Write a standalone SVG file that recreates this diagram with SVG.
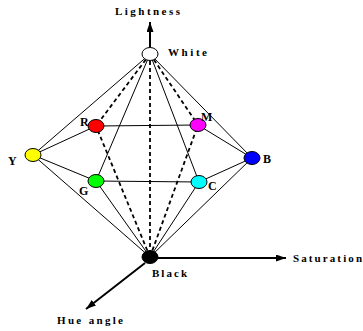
<svg xmlns="http://www.w3.org/2000/svg" width="363" height="331" viewBox="0 0 363 331">
<style>
.s{stroke:#000;stroke-width:1;fill:none}
.d{stroke:#000;stroke-width:1.8;stroke-dasharray:4 3;fill:none}
.ax{stroke:#000;stroke-width:2;fill:none;marker-end:url(#ah)}
.n{stroke:#000;stroke-width:1}
.t{font-family:"Liberation Serif",serif;font-weight:bold;font-size:11px;fill:#000}
.l{font-family:"Liberation Serif",serif;font-weight:bold;font-size:12px;fill:#000}
</style>
<defs>
<marker id="ah" markerUnits="userSpaceOnUse" markerWidth="10" markerHeight="7" refX="10" refY="3.5" orient="auto">
<path d="M0,0 L10,3.5 L0,7 z" fill="#000"/>
</marker>
</defs>
<rect width="363" height="331" fill="#fff"/>
<g id="connectors">
<line class="s" x1="150" y1="54" x2="33" y2="155"/>
<line class="d" x1="150" y1="54" x2="96" y2="126"/>
<line class="s" x1="150" y1="54" x2="96" y2="181"/>
<line class="d" x1="150" y1="54" x2="150" y2="257"/>
<line class="d" x1="150" y1="54" x2="198" y2="125"/>
<line class="s" x1="150" y1="54" x2="199" y2="182"/>
<line class="s" x1="150" y1="54" x2="252" y2="158"/>
<line class="s" x1="150" y1="257" x2="33" y2="155"/>
<line class="d" x1="150" y1="257" x2="96" y2="126"/>
<line class="s" x1="150" y1="257" x2="96" y2="181"/>
<line class="d" x1="150" y1="257" x2="198" y2="125"/>
<line class="s" x1="150" y1="257" x2="199" y2="182"/>
<line class="s" x1="150" y1="257" x2="252" y2="158"/>
<line class="s" x1="33" y1="155" x2="96" y2="126"/>
<line class="s" x1="96" y1="126" x2="198" y2="125"/>
<line class="s" x1="198" y1="125" x2="252" y2="158"/>
<line class="s" x1="252" y1="158" x2="199" y2="182"/>
<line class="s" x1="199" y1="182" x2="96" y2="181"/>
<line class="s" x1="96" y1="181" x2="33" y2="155"/>
<line class="ax" x1="150" y1="47" x2="150" y2="22"/>
<line class="ax" x1="158" y1="258" x2="286" y2="258"/>
<line class="ax" x1="145" y1="263" x2="86" y2="309"/>
</g>
<g id="white"><ellipse class="n" cx="150" cy="54" rx="8" ry="6.5" fill="#fff"/><text class="t" x="168" y="56" textLength="39" lengthAdjust="spacing">White</text></g>
<g id="black"><ellipse class="n" cx="150" cy="257" rx="8" ry="6.5" fill="#000"/><text class="t" x="152" y="277" textLength="35" lengthAdjust="spacing">Black</text></g>
<g id="R"><ellipse class="n" cx="96" cy="126" rx="8" ry="6.5" fill="#f00"/><text class="l" x="80" y="126">R</text></g>
<g id="M"><ellipse class="n" cx="198" cy="125" rx="8" ry="6.5" fill="#f0f"/><text class="l" x="201" y="121">M</text></g>
<g id="Y"><ellipse class="n" cx="33" cy="155" rx="8" ry="6.5" fill="#ff0"/><text class="l" x="8" y="165">Y</text></g>
<g id="B"><ellipse class="n" cx="252" cy="158" rx="8" ry="6.5" fill="#00f"/><text class="l" x="263" y="163">B</text></g>
<g id="G"><ellipse class="n" cx="96" cy="181" rx="8" ry="6.5" fill="#0f0"/><text class="l" x="79" y="195">G</text></g>
<g id="C"><ellipse class="n" cx="199" cy="182" rx="8" ry="6.5" fill="#0ff"/><text class="l" x="208" y="190">C</text></g>
<g id="lightness"><text class="t" x="115" y="15" textLength="65" lengthAdjust="spacing">Lightness</text></g>
<g id="saturation"><text class="t" x="293" y="262" textLength="69" lengthAdjust="spacing">Saturation</text></g>
<g id="hue"><text class="t" x="57" y="324" textLength="66" lengthAdjust="spacing">Hue angle</text></g>
</svg>
